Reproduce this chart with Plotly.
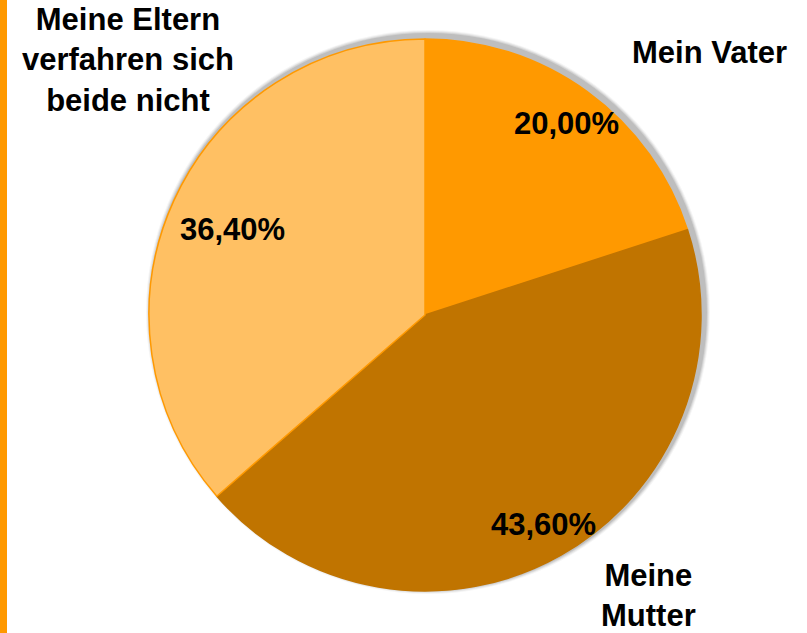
import plotly.graph_objects as go

labels = ["Mein Vater", "Meine Mutter", "Meine Eltern verfahren sich beide nicht"]
values = [20.0, 43.6, 36.4]
colors = ["#FF9900", "#C07400", "#FFC063"]
edge_colors = ["#FF9900", "#C07400", "#FF9900"]

# label text (with line breaks as on the slide) and where it sits, in pixels
label_text = ["Mein Vater", "Meine<br>Mutter", "Meine Eltern<br>verfahren sich<br>beide nicht"]
label_pos = [(709, 53), (648, 595), (128, 60)]
pct_pos = [(566, 124), (543, 524), (232, 229)]

W, H = 807, 633
cx, cy, r = 425, 315, 276


def px(x, y):
    return x / W, 1 - y / H


fig = go.Figure()

fig.add_trace(go.Pie(
    labels=labels,
    values=values,
    sort=False,
    direction="clockwise",
    rotation=0,
    textinfo="none",
    hoverinfo="label+percent",
    marker=dict(colors=colors, line=dict(color=edge_colors, width=1.5)),
    domain=dict(x=[(cx - r) / W, (cx + r) / W], y=[1 - (cy + r) / H, 1 - (cy - r) / H]),
    showlegend=False,
))

# soft shadow toward the upper right
for i, op in enumerate([0.04, 0.06, 0.08, 0.10]):
    d = 6 - i
    fig.add_shape(type="circle", xref="paper", yref="paper", layer="below",
                  x0=(cx - r + 3 - d) / W, x1=(cx + r + 3 + d) / W,
                  y0=1 - (cy + r - 3 + d) / H, y1=1 - (cy - r - 3 - d) / H,
                  fillcolor=f"rgba(0,0,0,{op})", line=dict(width=0))

# orange bar on the left edge of the slide
fig.add_shape(type="rect", xref="paper", yref="paper", x0=0, x1=7 / W, y0=0, y1=1,
              fillcolor="#FF9900", line=dict(width=0))

font = dict(family="Liberation Sans, Arial, sans-serif", size=31, color="black")

for t, (x, y) in zip(label_text, label_pos):
    ax, ay = px(x, y)
    fig.add_annotation(x=ax, y=ay, xref="paper", yref="paper", text=f"<b>{t}</b>",
                       showarrow=False, font=font, align="center",
                       xanchor="center", yanchor="middle")

total = sum(values)
for v, (x, y) in zip(values, pct_pos):
    ax, ay = px(x, y)
    s = f"{v / total * 100:.2f}%".replace(".", ",")
    fig.add_annotation(x=ax, y=ay, xref="paper", yref="paper", text=f"<b>{s}</b>",
                       showarrow=False, font=font, xanchor="center", yanchor="middle")

fig.update_layout(
    width=W, height=H,
    margin=dict(l=0, r=0, t=0, b=0),
    paper_bgcolor="white",
    plot_bgcolor="white",
)

# the page body has a default 8px margin; drop it so the figure fills the window
fig.write_html("out.html", config={"displayModeBar": False},
               post_script="document.body.style.margin='0';")
